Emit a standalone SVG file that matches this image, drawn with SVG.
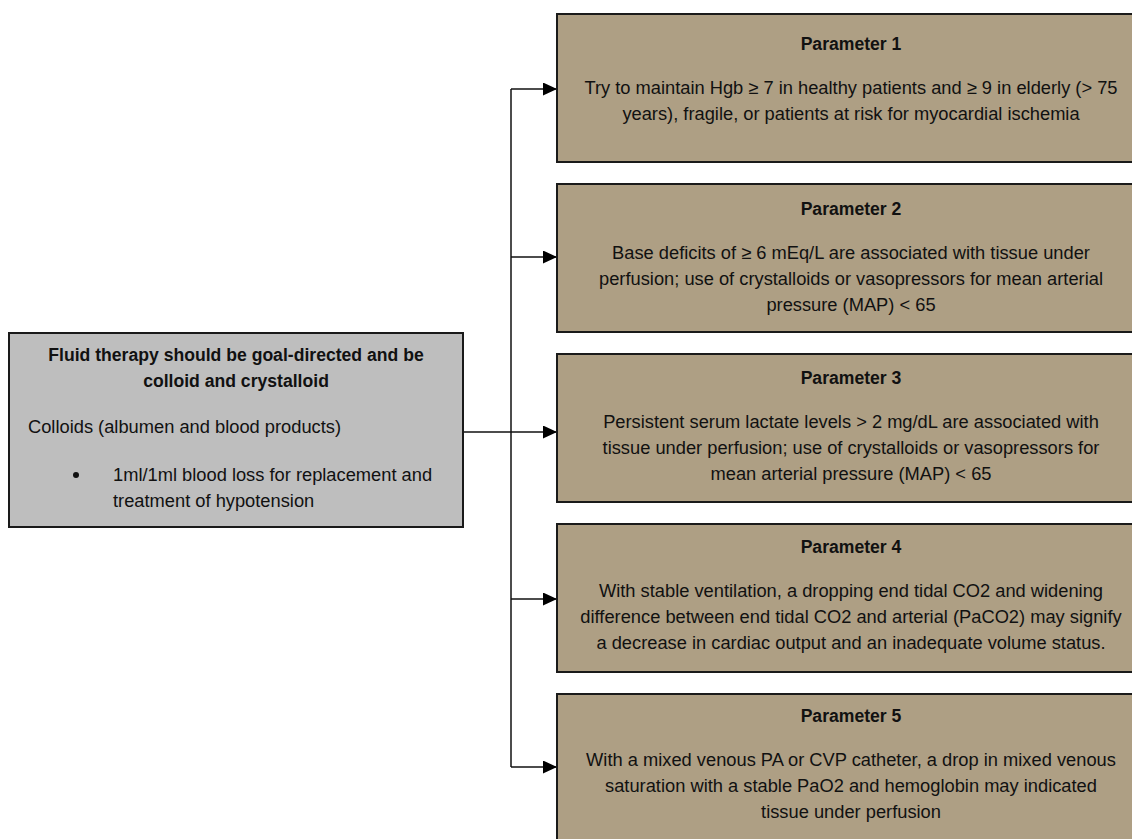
<svg xmlns="http://www.w3.org/2000/svg" width="1132" height="839" viewBox="0 0 1132 839">
<defs>
<style>
.t{font-family:"Liberation Sans",Arial,sans-serif;font-size:18.3px;fill:#111}
.b{font-weight:bold;font-size:17.6px}
.c{text-anchor:middle}
.box{fill:#ae9f84;stroke:#1a1a1a;stroke-width:2}
.lbox{fill:#bebebe;stroke:#1a1a1a;stroke-width:2}
.ln{fill:none;stroke:#111;stroke-width:1.5}
</style>
<marker id="ah" markerWidth="14" markerHeight="13" refX="14" refY="6.5" orient="auto" markerUnits="userSpaceOnUse">
<path d="M0,0 L14,6.5 L0,13 Z" fill="#000"/>
</marker>
</defs>
<rect width="1132" height="839" fill="#fff"/>
<g id="connectors">
<path class="ln" d="M463,432 H511"/>
<path class="ln" d="M511,89 V767"/>
<path class="ln" d="M511,89 H557" marker-end="url(#ah)"/>
<path class="ln" d="M511,257 H557" marker-end="url(#ah)"/>
<path class="ln" d="M511,432 H557" marker-end="url(#ah)"/>
<path class="ln" d="M511,599 H557" marker-end="url(#ah)"/>
<path class="ln" d="M511,767 H557" marker-end="url(#ah)"/>
</g>
<g id="source">
<rect class="lbox" x="9" y="333" width="454" height="194"/>
<text class="t b c" x="236" y="361">Fluid therapy should be goal-directed and be</text>
<text class="t b c" x="236" y="387">colloid and crystalloid</text>
<text class="t" x="28" y="433">Colloids (albumen and blood products)</text>
<circle cx="76" cy="475" r="3" fill="#111"/>
<text class="t" x="113" y="481">1ml/1ml blood loss for replacement and</text>
<text class="t" x="113" y="507">treatment of hypotension</text>
</g>
<g id="param1">
<rect class="box" x="557" y="14" width="590" height="148"/>
<text class="t b c" x="851" y="50">Parameter 1</text>
<text class="t c" x="851" y="94">Try to maintain Hgb ≥ 7 in healthy patients and ≥ 9 in elderly (&gt; 75</text>
<text class="t c" x="851" y="120">years), fragile, or patients at risk for myocardial ischemia</text>
</g>
<g id="param2">
<rect class="box" x="557" y="184" width="590" height="148"/>
<text class="t b c" x="851" y="215">Parameter 2</text>
<text class="t c" x="851" y="259">Base deficits of ≥ 6 mEq/L are associated with tissue under</text>
<text class="t c" x="851" y="285">perfusion; use of crystalloids or vasopressors for mean arterial</text>
<text class="t c" x="851" y="311">pressure (MAP) &lt; 65</text>
</g>
<g id="param3">
<rect class="box" x="557" y="354" width="590" height="148"/>
<text class="t b c" x="851" y="384">Parameter 3</text>
<text class="t c" x="851" y="428">Persistent serum lactate levels &gt; 2 mg/dL are associated with</text>
<text class="t c" x="851" y="454">tissue under perfusion; use of crystalloids or vasopressors for</text>
<text class="t c" x="851" y="480">mean arterial pressure (MAP) &lt; 65</text>
</g>
<g id="param4">
<rect class="box" x="557" y="524" width="590" height="148"/>
<text class="t b c" x="851" y="553">Parameter 4</text>
<text class="t c" x="851" y="597">With stable ventilation, a dropping end tidal CO2 and widening</text>
<text class="t c" x="851" y="623">difference between end tidal CO2 and arterial (PaCO2) may signify</text>
<text class="t c" x="851" y="649">a decrease in cardiac output and an inadequate volume status.</text>
</g>
<g id="param5">
<rect class="box" x="557" y="694" width="590" height="160"/>
<text class="t b c" x="851" y="722">Parameter 5</text>
<text class="t c" x="851" y="766">With a mixed venous PA or CVP catheter, a drop in mixed venous</text>
<text class="t c" x="851" y="792">saturation with a stable PaO2 and hemoglobin may indicated</text>
<text class="t c" x="851" y="818">tissue under perfusion</text>
</g>
</svg>
